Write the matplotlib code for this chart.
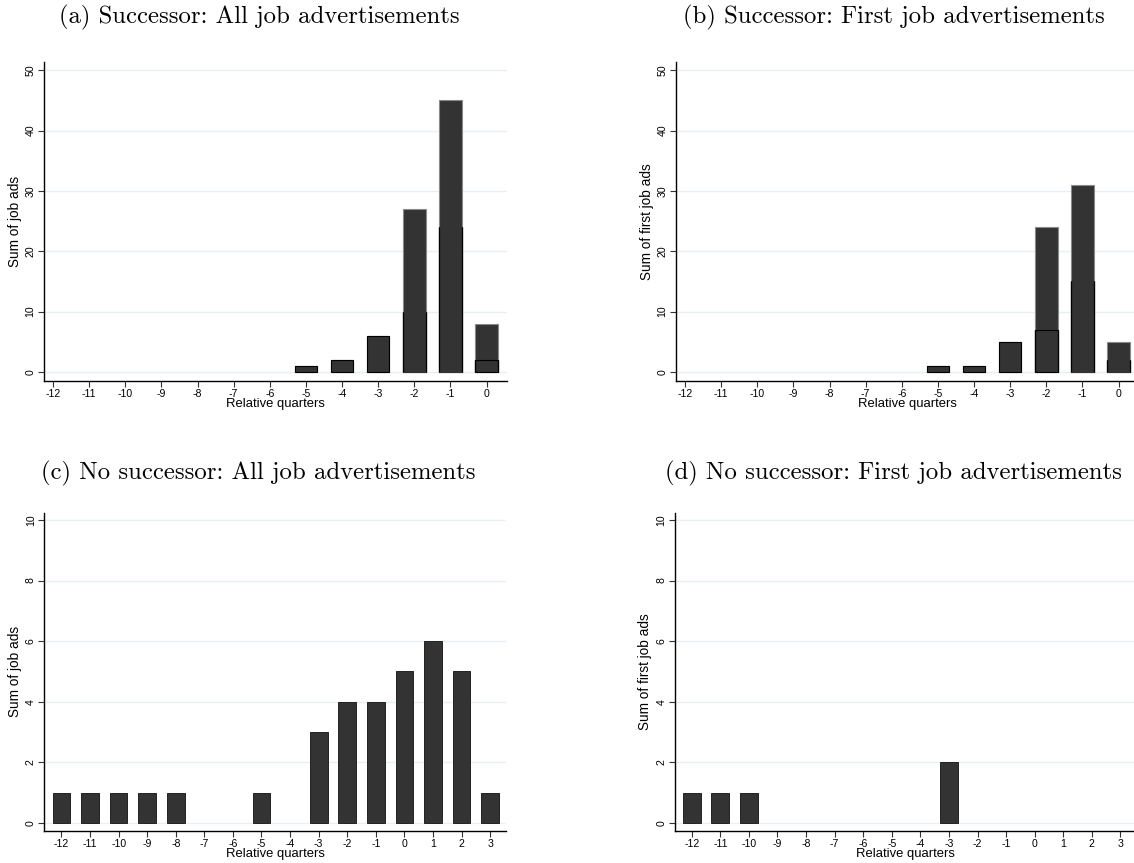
import numpy as np
import matplotlib
matplotlib.use("Agg")
from matplotlib import pyplot as plt

# data
q_succ = list(range(-12, 1))
all_succ = [0, 0, 0, 0, 0, 0, 0, 1, 2, 6, 27, 45, 8]
all_succ_inner = [0, 0, 0, 0, 0, 0, 0, 1, 2, 6, 10, 24, 2]
first_succ = [0, 0, 0, 0, 0, 0, 0, 1, 1, 5, 24, 31, 5]
first_succ_inner = [0, 0, 0, 0, 0, 0, 0, 1, 1, 5, 7, 15, 2]

q_nosucc = list(range(-12, 4))
all_nosucc = [1, 1, 1, 1, 1, 0, 0, 1, 0, 3, 4, 4, 5, 6, 5, 1]
first_nosucc = [1, 1, 1, 0, 0, 0, 0, 0, 0, 2, 0, 0, 0, 0, 0, 0]

titles = ["(a) Successor: All job advertisements",
          "(b) Successor: First job advertisements",
          "(c) No successor: All job advertisements",
          "(d) No successor: First job advertisements"]

W, H = 1134, 863
fig = plt.figure(figsize=(W / 100, H / 100), dpi=100)
sans = ["Liberation Sans", "DejaVu Sans"]
serif = ["cmr10", "DejaVu Serif"]
bar_c = "#333333"
grid_c = "#e6eff1"


def px_axes(left, top, right, bottom):
    return fig.add_axes([left / W, 1 - bottom / H, (right - left) / W, (bottom - top) / H])


def panel(ax, x, y, inner, ylabel, yticks, ylim, xlim):
    x = np.array(x)
    y = np.array(y)
    ax.set_axisbelow(True)
    for t in yticks:
        ax.axhline(t, color=grid_c, lw=1.0, zorder=0)
    m = y > 0
    if inner is not None:
        inner = np.array(inner)
        ax.bar(x[m], y[m], width=0.62, color=bar_c, edgecolor="#8a8a8a", linewidth=0.8, zorder=2)
        # only the small bottom block at 0 shows its top edge; others blend in
        full = m & (inner == y)
        part = m & (inner < y)
        ax.bar(x[full], inner[full], width=0.62, color=bar_c, edgecolor="black",
               linewidth=0.8, zorder=3)
        edges = ["black" if v / t < 0.3 else bar_c for v, t in zip(inner[part], y[part])]
        ax.bar(x[part], inner[part], width=0.62, color=bar_c, edgecolor=edges,
               linewidth=0.8, zorder=3)
        ax.vlines(np.r_[x[part] - 0.31, x[part] + 0.31], 0, np.r_[inner[part], inner[part]],
                  color="black", lw=0.9, zorder=4)
    else:
        ax.bar(x[m], y[m], width=0.62, color=bar_c, edgecolor="#222222", linewidth=0.7, zorder=3)
    ax.set_xlim(*xlim)
    ax.set_ylim(*ylim)
    ax.set_xticks(x)
    ax.set_xticklabels([str(v) for v in x], fontsize=7.6, family=sans)
    ax.set_yticks(yticks)
    ax.set_yticklabels([str(v) for v in yticks], fontsize=7.6, family=sans,
                       rotation=90, va="center")
    ax.tick_params(length=4, width=0.8, color="#333333", pad=2)
    for s in ["top", "right"]:
        ax.spines[s].set_visible(False)
    for s in ["left", "bottom"]:
        ax.spines[s].set_linewidth(1.0)
    ax.set_xlabel("Relative quarters", fontsize=9.4, family=sans, labelpad=-1)
    ax.set_ylabel(ylabel, fontsize=9.8, family=sans, labelpad=3)


ax_a = px_axes(44, 61.7, 506.5, 380.7)
panel(ax_a, q_succ, all_succ, all_succ_inner, "Sum of job ads",
      [0, 10, 20, 30, 40, 50], (-1.44, 51.4), (-12.25, 0.55))
ax_b = px_axes(676, 61.7, 1138.5, 380.7)
panel(ax_b, q_succ, first_succ, first_succ_inner, "Sum of first job ads",
      [0, 10, 20, 30, 40, 50], (-1.44, 51.4), (-12.25, 0.55))
ax_c = px_axes(44.3, 512.7, 506.4, 831)
panel(ax_c, q_nosucc, all_nosucc, None, "Sum of job ads",
      [0, 2, 4, 6, 8, 10], (-0.27, 10.24), (-12.6, 3.57))
ax_d = px_axes(674.6, 512.7, 1136.7, 831)
panel(ax_d, q_nosucc, first_nosucc, None, "Sum of first job ads",
      [0, 2, 4, 6, 8, 10], (-0.27, 10.24), (-12.6, 3.57))

title_pos = [(259, 17), (894, 17), (258, 473), (893, 473)]
for (tx, ty), t in zip(title_pos, titles):
    fig.text(tx / W, 1 - ty / H, t, ha="center", va="center", fontsize=17.8, family=serif)

fig.savefig("out.png", dpi=100)
